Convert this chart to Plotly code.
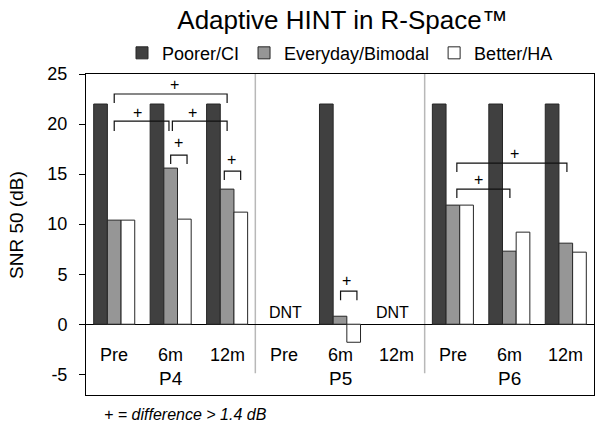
import plotly.graph_objects as go

# ---- data ----
time_points = ["Pre", "6m", "12m", "Pre", "6m", "12m", "Pre", "6m", "12m"]
patients = ["P4", "P5", "P6"]
poorer_ci = [22, 22, 22, None, 22, None, 22, 22, 22]
everyday_bimodal = [10.4, 15.6, 13.5, None, 0.8, None, 11.9, 7.3, 8.1]
better_ha = [10.4, 10.5, 11.2, None, -1.8, None, 11.9, 9.2, 7.2]
dnt_positions = [3, 5]
y_ticks = [-5, 0, 5, 10, 15, 20, 25]
y_tick_labels = ["-5", "0", "5", "10", "15", "20", "25"]

# significance brackets: (x0, x1, y_top, y_leg, plus_x, plus_y)
brackets = [
    (0.0, 2.0, 23.0, 22.1, 1.06, 24.0),
    (0.0, 0.97, 20.3, 19.3, 0.41, 21.2),
    (1.03, 2.0, 20.3, 19.3, 1.38, 21.2),
    (1.0, 1.29, 16.9, 16.0, 1.135, 18.2),
    (1.95, 2.24, 15.3, 14.4, 2.07, 16.5),
    (4.01, 4.30, 3.3, 2.4, 4.12, 4.4),
    (6.07, 8.02, 16.1, 15.2, 7.10, 17.1),
    (6.07, 7.01, 13.5, 12.6, 6.45, 14.5),
]

FONT = "Liberation Sans, Arial, sans-serif"
x_idx = list(range(len(time_points)))

fig = go.Figure()
series = [
    ("Poorer/CI", poorer_ci, "#404040"),
    ("Everyday/Bimodal", everyday_bimodal, "#969696"),
    ("Better/HA", better_ha, "#ffffff"),
]
for name, vals, col in series:
    fig.add_trace(go.Bar(
        x=x_idx, y=vals, name=name,
        marker=dict(color=col, line=dict(color="#262626", width=1)),
    ))

shapes = []
# separators between patients
for sx in [2.5, 5.5]:
    shapes.append(dict(type="line", xref="x", yref="y", x0=sx, x1=sx, y0=-4.9, y1=25,
                       line=dict(color="#b8b8b8", width=1.5), layer="below"))
annotations = []
for x0, x1, yt, yl, px, py in brackets:
    shapes.append(dict(type="path", xref="x", yref="y",
                       path=f"M{x0},{yl} L{x0},{yt} L{x1},{yt} L{x1},{yl}",
                       line=dict(color="#111111", width=1.2)))
    annotations.append(dict(x=px, y=py, xref="x", yref="y", text="+", showarrow=False,
                            font=dict(family=FONT, size=16, color="#000"),
                            xanchor="center", yanchor="middle"))

for i, t in enumerate(time_points):
    annotations.append(dict(x=i, y=-3.07, xref="x", yref="y", text=t, showarrow=False,
                            font=dict(family=FONT, size=18, color="#000"),
                            xanchor="center", yanchor="middle"))
for j, p in enumerate(patients):
    annotations.append(dict(x=1 + 3 * j, y=-5.4, xref="x", yref="y", text=p, showarrow=False,
                            font=dict(family=FONT, size=19, color="#000"),
                            xanchor="center", yanchor="middle"))
for dx in dnt_positions:
    annotations.append(dict(x=dx + (0.03 if dx == 3 else -0.07), y=1.15, xref="x", yref="y",
                            text="DNT", showarrow=False,
                            font=dict(family=FONT, size=16, color="#000"),
                            xanchor="center", yanchor="middle"))
annotations.append(dict(x=0.031, y=-0.062, xref="paper", yref="paper",
                        text="<i>+ = difference > 1.4 dB</i>", showarrow=False,
                        font=dict(family=FONT, size=16, color="#000"),
                        xanchor="left", yanchor="middle"))
# y-axis title
annotations.append(dict(x=-0.137, y=0.531, xref="paper", yref="paper",
                        text="SNR 50 (dB)", textangle=-90, showarrow=False,
                        font=dict(family=FONT, size=19, color="#000"),
                        xanchor="center", yanchor="middle"))

fig.update_layout(
    width=600, height=428,
    margin=dict(l=86, r=6, t=74, b=33),
    paper_bgcolor="white", plot_bgcolor="white",
    barmode="group", bargap=0.273, bargroupgap=0,
    font=dict(family=FONT, color="#000"),
    title=dict(text="Adaptive HINT in R-Space™", x=0.505, xref="paper",
               y=1 - 19.5 / 428, yref="container", xanchor="center", yanchor="middle",
               font=dict(family=FONT, size=26, color="#000")),
    legend=dict(orientation="h", x=0.5, xanchor="center", y=1.065, yanchor="middle",
                font=dict(family=FONT, size=18, color="#000"),
                bgcolor="rgba(0,0,0,0)", itemclick=False),
    xaxis=dict(range=[-0.5, 8.5], showticklabels=False, ticks="", showgrid=False,
               zeroline=False, showline=True, mirror=True, linecolor="#000", linewidth=1),
    yaxis=dict(range=[-7.07, 25], tickvals=y_ticks, ticktext=y_tick_labels,
               ticks="outside", ticklen=6,
               tickcolor="#000", showgrid=False, zeroline=True, zerolinecolor="#000",
               zerolinewidth=1, showline=True, mirror=True, linecolor="#000", linewidth=1,
               tickfont=dict(family=FONT, size=18, color="#000"), ticklabelstandoff=8),
    shapes=shapes, annotations=annotations, showlegend=True,
)

# remove the browser's default 8px body margin so the figure fills the window
fig.write_html("out.html", config={"displayModeBar": False},
               post_script="document.body.style.margin='0';")
